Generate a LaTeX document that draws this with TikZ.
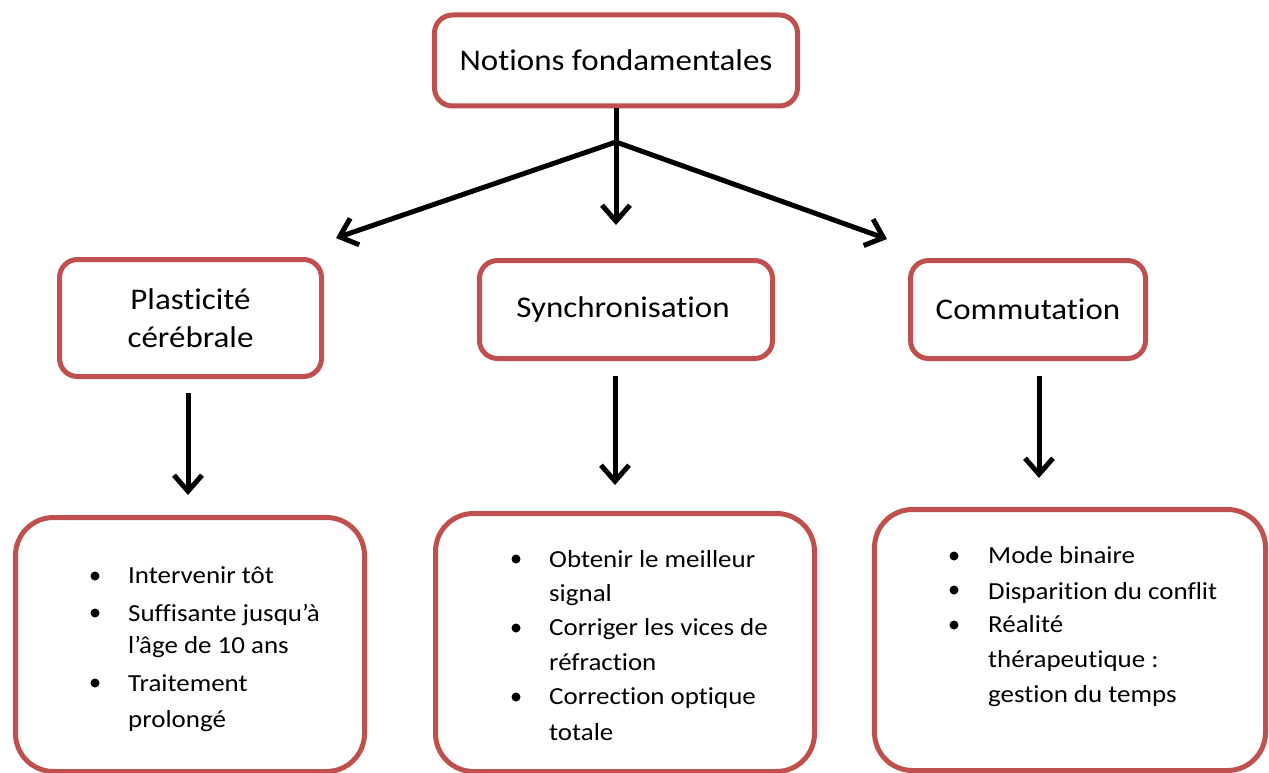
\documentclass[tikz,border=0pt]{standalone}
\usepackage{fontspec}
\setmainfont{Carlito}[FakeStretch=1.1,Ligatures={NoCommon},RawFeature={-liga;-dlig}]
\usetikzlibrary{arrows.meta}
\definecolor{boxred}{HTML}{C0504D}
\begin{document}
\begin{tikzpicture}[x=1pt,y=-1pt,
  hbox/.style={draw=boxred,line width=5pt,rounded corners=18pt,fill=white,inner sep=0pt,
    font=\fontsize{30}{38}\selectfont,align=center},
  lbox/.style={draw=boxred,line width=5pt,rounded corners=38pt,inner sep=0pt},
  arr/.style={line width=5pt,-{Straight Barb[length=16pt,width=28pt,line width=5pt]}},
  item/.style={anchor=base west,inner sep=0pt,font=\fontsize{24.5}{30}\selectfont},
  dot/.style={circle,fill=black,minimum size=9pt,inner sep=0pt}
]
\useasboundingbox (0,0) rectangle (1269,773);

% header boxes
\node[hbox,minimum width=363pt,minimum height=91pt] (top) at (616,60.5) {Notions fondamentales};
\node[hbox,minimum width=262pt,minimum height=117pt] (plast) at (190.5,318) {Plasticité\\cérébrale};
\node[hbox,minimum width=293pt,minimum height=98pt] (sync) at (626,309.5) {\hspace*{-6pt}Synchronisation};
\node[hbox,minimum width=235pt,minimum height=98pt] (comm) at (1028,309.5) {Commutation};

% lower boxes
\node[lbox,minimum width=349pt,minimum height=254pt] (lb1) at (190,644.5) {};
\node[lbox,minimum width=379pt,minimum height=258pt] (lb2) at (625,642.5) {};
\node[lbox,minimum width=391pt,minimum height=261pt] (lb3) at (1070,640) {};

% connectors from top
\coordinate (j) at (616,142);
\coordinate (tipS) at (616,225);
\coordinate (tipL) at (336,238);
\coordinate (tipR) at (887,239);
\draw[arr] (top.south) -- (tipS);
\draw[arr] (j) -- (tipL);
\draw[arr] (j) -- (tipR);

% lower arrows
\coordinate (a1s) at (188,393);
\coordinate (a1e) at (188,495);
\coordinate (a2s) at (615,376);
\coordinate (a2e) at (615,485);
\coordinate (a3s) at (1039,376);
\coordinate (a3e) at (1039,478);
\draw[arr] (a1s) -- (a1e);
\draw[arr] (a2s) -- (a2e);
\draw[arr] (a3s) -- (a3e);

% left list
\node[dot] (d11) at (95,576) {};
\node[dot] (d12) at (95,613) {};
\node[dot] (d13) at (95,683) {};
\node[item] (t11) at (128,583) {Intervenir tôt};
\node[item] (t12) at (128,621) {Suffisante jusqu’à};
\node[item] (t13) at (128,653) {l’âge de 10 ans};
\node[item] (t14) at (128,691) {Traitement};
\node[item] (t15) at (128,727) {prolongé};

% middle list
\node[dot] (d21) at (516,559) {};
\node[dot] (d22) at (516,628) {};
\node[dot] (d23) at (516,697) {};
\node[item] (t21) at (549,567) {Obtenir le meilleur};
\node[item] (t22) at (549,601) {signal};
\node[item] (t23) at (549,635) {Corriger les vices de};
\node[item] (t24) at (549,670) {réfraction};
\node[item] (t25) at (549,704) {Correction optique};
\node[item] (t26) at (549,740) {totale};

% right list
\node[dot] (d31) at (954,556) {};
\node[dot] (d32) at (954,590) {};
\node[dot] (d33) at (954,625) {};
\node[item] (t31) at (988,563) {Mode binaire};
\node[item] (t32) at (988,599) {Disparition du conflit};
\node[item] (t33) at (988,632) {Réalité};
\node[item] (t34) at (988,667) {thérapeutique :};
\node[item] (t35) at (988,702) {gestion du temps};
\end{tikzpicture}
\end{document}
